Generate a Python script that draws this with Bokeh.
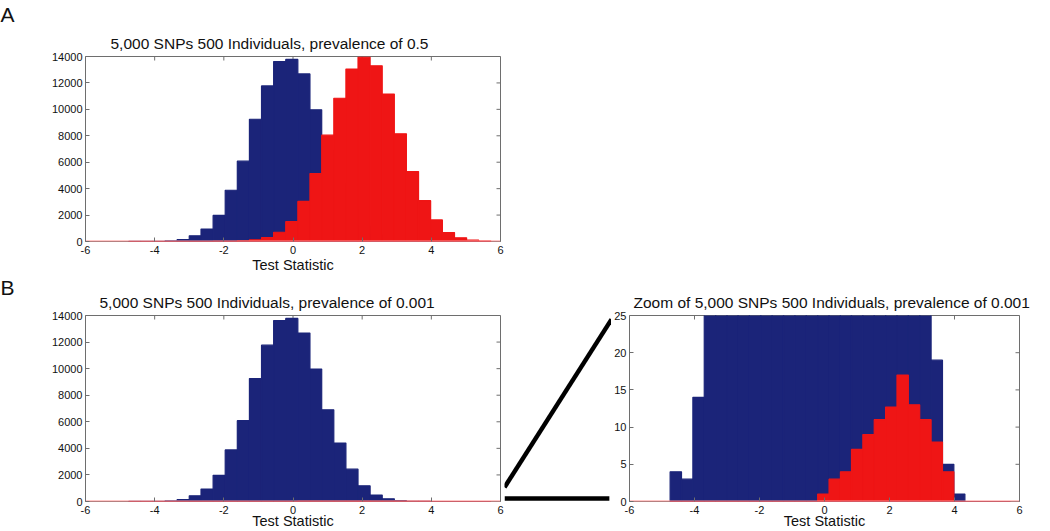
import math
from bokeh.plotting import figure
from bokeh.models import Range1d, FixedTicker, Title
from bokeh.layouts import column, row
from bokeh.embed import file_html
from bokeh.resources import INLINE

# ---------------- data ----------------
bin_edges = [-4.75, -4.40, -4.05, -3.70, -3.35, -3.00, -2.66, -2.31, -1.96, -1.61,
             -1.26, -0.91, -0.56, -0.21, 0.14, 0.49, 0.83, 1.18, 1.53, 1.88,
             2.23, 2.58, 2.93, 3.28, 3.63, 3.98, 4.32, 4.67, 5.02, 5.37, 5.72]
null_counts = [4, 3, 14, 40, 150, 430, 940, 1970, 3880, 6080,
               9250, 11770, 13620, 13780, 12680, 9970, 6900, 4400, 2430, 1180,
               480, 200, 60, 19, 5, 1, 0, 0, 0, 0]
case_counts_05 = [0, 0, 0, 0, 0, 0, 0, 5, 15, 45,
                  130, 300, 700, 1500, 3030, 5140, 8050, 10840, 13050, 13950,
                  13300, 11160, 8150, 5290, 3090, 1630, 680, 280, 100, 30]
case_counts_0001 = [0, 0, 0, 0, 0, 0, 0, 0, 0, 0,
                    0, 0, 0, 1, 3, 4, 7, 9, 11, 12.7,
                    17, 13, 11, 8, 4, 0, 0, 0, 0, 0]
x_ticks = [-6, -4, -2, 0, 2, 4, 6]
y_ticks_full = [0, 2000, 4000, 6000, 8000, 10000, 12000, 14000]
y_ticks_zoom = [0, 5, 10, 15, 20, 25]
x_lim = (-6, 6)
full_ylim = (0, 14000)
zoom_ylim = (0, 25)
title_a = "5,000 SNPs 500 Individuals, prevalence of 0.5"
title_b = "5,000 SNPs 500 Individuals, prevalence of 0.001"
title_c = "Zoom of 5,000 SNPs 500 Individuals, prevalence of 0.001"
x_label = "Test Statistic"

# ---------------- style ----------------
BLUE = "#1b2479"
RED = "#ef1515"
PINK = "#ff9090"
GRAY = "#6e6e6e"
FONT = "Liberation Sans"

FRAME_H = 186
H1 = 275
H2 = 256
T1, B1 = 56, H1 - 56 - FRAME_H
T2, B2 = 40, H2 - 40 - FRAME_H


def style_axis(ax, ticks):
    ax.ticker = FixedTicker(ticks=ticks)
    ax.major_label_overrides = {t: str(t) for t in ticks}
    ax.axis_line_color = None
    ax.major_tick_in = 4
    ax.major_tick_out = 0
    ax.major_tick_line_color = GRAY
    ax.minor_tick_line_color = None
    ax.major_label_text_font = FONT
    ax.major_label_text_font_size = "11px"
    ax.major_label_text_color = "#111111"
    ax.major_label_standoff = 3


def panel(title, title_shift, ylim, yticks, width, height, left, right, top, bottom,
          label_standoff, letter=None, letter_standoff=0):
    p = figure(width=width, height=height, x_range=Range1d(*x_lim), y_range=Range1d(*ylim),
               output_backend="svg", toolbar_location=None, title=None,
               min_border_left=left, min_border_right=right,
               min_border_top=top, min_border_bottom=bottom)
    p.grid.visible = False
    p.outline_line_color = GRAY
    p.outline_line_width = 1
    p.background_fill_color = "white"
    p.border_fill_color = "white"

    style_axis(p.xaxis[0], x_ticks)
    p.xaxis[0].major_label_standoff = 4
    p.xaxis[0].axis_label = x_label
    p.xaxis[0].axis_label_text_font = FONT
    p.xaxis[0].axis_label_text_font_size = "14.5px"
    p.xaxis[0].axis_label_text_font_style = "normal"
    p.xaxis[0].axis_label_text_color = "#111111"
    p.xaxis[0].axis_label_standoff = label_standoff
    style_axis(p.yaxis[0], yticks)

    # inward ticks on the top and right edges of the box
    p.ray(x=x_ticks, y=[ylim[1]] * len(x_ticks), length=4, length_units="screen",
          angle=-math.pi / 2, line_color=GRAY, line_width=1)
    p.ray(x=[x_lim[1]] * len(yticks), y=yticks, length=4, length_units="screen",
          angle=math.pi, line_color=GRAY, line_width=1)

    p.add_layout(Title(text=title, align="left", offset=title_shift, text_font=FONT,
                       text_font_size="15.5px", text_font_style="normal",
                       text_color="#111111", standoff=10), "above")
    if letter is not None:
        p.add_layout(Title(text=letter, align="left",
                           vertical_align="top" if letter_standoff >= 0 else "bottom",
                           offset=-left, text_font=FONT, text_font_size="21px",
                           text_font_style="normal", text_color="#111111",
                           standoff=letter_standoff), "above")
    return p


def add_hist(p, counts, color):
    p.quad(left=bin_edges[:-1], right=bin_edges[1:], bottom=0, top=counts,
           fill_color=color, line_color=color, line_width=1.2)


def add_baseline(p):
    p.line(x=list(x_lim), y=[0, 0], line_color=PINK, line_width=2)


# Panel A
pa = panel(title_a, 25, full_ylim, y_ticks_full, 85 + 415 + 10, H1, 85, 10, T1, B1, 0, "A", 0)
add_hist(pa, null_counts, BLUE)
add_hist(pa, case_counts_05, RED)
add_baseline(pa)

# Panel B (left); the letter sits level with the title
pb = panel(title_b, 14, full_ylim, y_ticks_full, 85 + 415 + 4, H2, 85, 4, T2, B2, -4, "B", -25)
add_hist(pb, null_counts, BLUE)
add_hist(pb, case_counts_0001, RED)
add_baseline(pb)

# Connector between panels
px_per_unit = FRAME_H / (zoom_ylim[1] - zoom_ylim[0])
mid = figure(width=107, height=H2, x_range=Range1d(0, 1),
             y_range=Range1d(zoom_ylim[0] - 3 / px_per_unit, zoom_ylim[1] + 4 / px_per_unit),
             output_backend="svg", toolbar_location=None, x_axis_location=None,
             y_axis_location=None, min_border_left=0, min_border_right=0,
             min_border_top=T2 - 4, min_border_bottom=B2 - 3)
mid.grid.visible = False
mid.outline_line_color = None
mid.border_fill_color = "white"
mid.line(x=[0, 1], y=[zoom_ylim[0] + 0.0625 * zoom_ylim[1], zoom_ylim[1]],
         line_color="black", line_width=4.5)
mid.line(x=[0, 0.98], y=[zoom_ylim[0], zoom_ylim[0]], line_color="black", line_width=4.5)

# Panel B (zoom)
pc = panel(title_c, 4, zoom_ylim, y_ticks_zoom, 14 + 394 + 12, H2, 14, 12, T2, B2, -4)
add_hist(pc, null_counts, BLUE)
add_hist(pc, case_counts_0001, RED)
add_baseline(pc)

layout = column(pa, row(pb, mid, pc))
open("out.html", "w").write(file_html(layout, INLINE))
